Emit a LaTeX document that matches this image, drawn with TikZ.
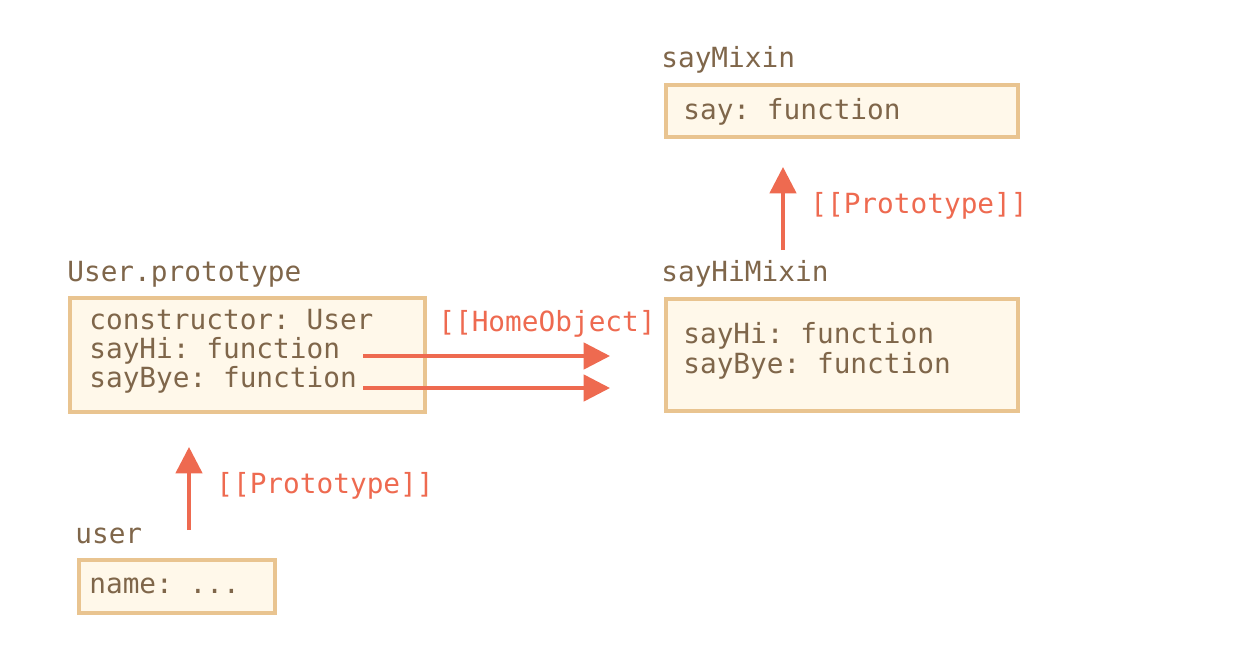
\documentclass[tikz,border=0pt]{standalone}
\usepackage{fontspec}
\setmonofont{DejaVu Sans Mono}
\usepackage{tikz}
\usetikzlibrary{arrows.meta}

\definecolor{boxfill}{RGB}{255,248,234}
\definecolor{boxline}{RGB}{233,196,144}
\definecolor{codebrown}{RGB}{127,102,74}
\definecolor{linkred}{RGB}{238,106,80}

\begin{document}
\begin{tikzpicture}[x=0.02cm, y=-0.02cm,
    objbox/.style={draw=boxline, fill=boxfill, line width=2.2pt, inner sep=0pt, anchor=north west},
    code/.style={text=codebrown, font=\ttfamily\fontsize{15.8}{18}\selectfont, inner sep=0pt, anchor=base west},
    link/.style={code, text=linkred},
    protolink/.style={draw=linkred, line width=2pt, -{Triangle[length=15pt, width=15pt]}}]
    \useasboundingbox (0, 0) rectangle (1238, 660);

    \node[code] (sayMixinName) at (661, 67) {sayMixin};
    \node[objbox, minimum width=7.04cm, minimum height=1.04cm] (sayMixin) at (664, 83) {};
    \node[code] (sayFn) at (683, 119) {say: function};

    \node[code] (hiMixinName) at (661, 281) {sayHiMixin};
    \node[objbox, minimum width=7.04cm, minimum height=2.24cm] (hiMixin) at (664, 297) {};
    \node[code] (mixinHi) at (683, 343) {sayHi: function};
    \node[code] (mixinBye) at (683, 373) {sayBye: function};

    \node[code] (userProtoName) at (67, 281) {User.prototype};
    \node[objbox, minimum width=7.1cm, minimum height=2.28cm] (userProto) at (68, 296) {};
    \node[code] (protoCtor) at (89, 329) {constructor: User};
    \node[code] (protoHi) at (89, 358) {sayHi: function};
    \node[code] (protoBye) at (89, 387) {sayBye: function};

    \node[code] (userName) at (75, 543) {user};
    \node[objbox, minimum width=3.92cm, minimum height=1.06cm] (user) at (77, 558) {};
    \node[code] (userField) at (89, 593) {name: ...};

    \coordinate (hiFrom) at (363, 356);
    \coordinate (hiTo) at (610, 356);
    \coordinate (byeFrom) at (363, 388);
    \coordinate (byeTo) at (610, 388);
    \draw[protolink] (hiFrom) -- (hiTo);
    \draw[protolink] (byeFrom) -- (byeTo);
    \node[link] (homeLabel) at (438, 331) {[[HomeObject]};

    \coordinate (userUp) at (189, 530);
    \coordinate (protoDown) at (189, 447);
    \draw[protolink] (userUp) -- (protoDown);
    \node[link] (userProtoLabel) at (216, 493) {[[Prototype]]};

    \coordinate (mixinUp) at (783, 250);
    \coordinate (sayDown) at (783, 167);
    \draw[protolink] (mixinUp) -- (sayDown);
    \node[link] (mixinProtoLabel) at (810, 213) {[[Prototype]]};
\end{tikzpicture}
\end{document}
